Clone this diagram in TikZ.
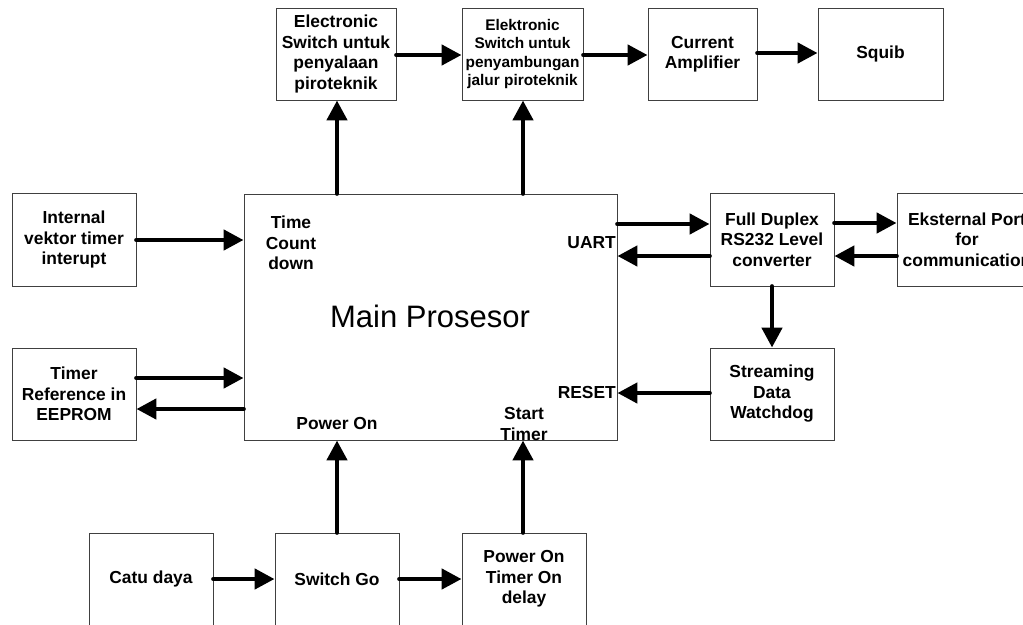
\documentclass[tikz,border=0pt]{standalone}
\usepackage{fontspec}
\setmainfont{Liberation Sans}
\usetikzlibrary{arrows.meta}
\begin{document}
\begin{tikzpicture}[x=1pt,y=-1pt,
  box/.style={draw=black!75,line width=0.9pt,inner sep=0pt,align=center,
    font=\bfseries\fontsize{17.4}{20.5}\selectfont},
  lbl/.style={inner sep=1pt,align=center,font=\bfseries\fontsize{17.4}{20.5}\selectfont},
  arr/.style={line width=4.6pt,line cap=round,-{Triangle[length=20pt,width=20pt]}}]
\useasboundingbox (0,0) rectangle (1023,624);
\fill[white] (0,0) rectangle (1023,624);
% top row
\node[box,minimum width=120,minimum height=92] (sw1) at (336,54) {Electronic\\Switch untuk\\penyalaan\\piroteknik};
\node[box,minimum width=121,minimum height=92,font=\bfseries\fontsize{15.4}{18.5}\selectfont] (sw2) at (522.5,54) {Elektronic\\Switch untuk\\penyambungan\\jalur piroteknik};
\node[box,minimum width=109,minimum height=92] (amp) at (702.5,54) {Current\\Amplifier};
\node[box,minimum width=125,minimum height=92] (squib) at (880.5,54) {Squib};
% middle
\node[box,minimum width=124,minimum height=93] (vek) at (74,239.5) {Internal\\vektor timer\\interupt};
\node[box,minimum width=124,minimum height=92] (tref) at (74,394) {Timer\\Reference in\\EEPROM};
\node[box,minimum width=373,minimum height=246] (main) at (430.5,317) {};
\node[inner sep=0pt,font=\fontsize{31}{36}\selectfont] (mp) at (430,316) {Main Prosesor};
\node[box,minimum width=124,minimum height=93] (fd) at (772,239.5) {Full Duplex\\RS232 Level\\converter};
\node[box,minimum width=140,minimum height=93] (ext) at (967,239.5) {Eksternal Port\\for\\communication};
\node[box,minimum width=124,minimum height=92] (wd) at (772,394) {Streaming\\Data\\Watchdog};
% bottom
\node[box,minimum width=124,minimum height=92] (catu) at (151,579) {Catu daya};
\node[box,minimum width=124,minimum height=92] (go) at (337,579) {Switch Go};
\node[box,minimum width=124,minimum height=92] (pot) at (524,579) {Power On\\Timer On\\delay};
% labels in main
\node[lbl] (tcd) at (291,243) {Time\\Count\\down};
\node[lbl,anchor=east] (uart) at (617,243) {UART};
\node[lbl,anchor=east] (reset) at (617,393) {RESET};
\node[lbl] (pon) at (337,424) {Power On};
\node[lbl,font=\bfseries\fontsize{17.4}{21.5}\selectfont] (st) at (524,424) {Start\\Timer};
% arrows
\draw[arr] (sw1.east |- 0,55) -- (sw2.west |- 0,55);
\draw[arr] (sw2.east |- 0,55) -- (amp.west |- 0,55);
\draw[arr] (amp.east |- 0,53) -- (squib.west |- 0,53);
\draw[arr] (main.north -| 337,0) -- (sw1.south -| 337,0);
\draw[arr] (main.north -| 523,0) -- (sw2.south -| 523,0);
\draw[arr] (vek.east |- 0,240) -- (main.west |- 0,240);
\draw[arr] (tref.east |- 0,378) -- (main.west |- 0,378);
\draw[arr] (main.west |- 0,409) -- (tref.east |- 0,409);
\draw[arr] (main.east |- 0,224) -- (fd.west |- 0,224);
\draw[arr] (fd.west |- 0,256) -- (main.east |- 0,256);
\draw[arr] (fd.east |- 0,223) -- (ext.west |- 0,223);
\draw[arr] (ext.west |- 0,256) -- (fd.east |- 0,256);
\draw[arr] (fd.south) -- (wd.north);
\draw[arr] (wd.west |- 0,393) -- (main.east |- 0,393);
\draw[arr] (go.north) -- (go.north |- main.south);
\draw[arr] (pot.north -| 523,0) -- (main.south -| 523,0);
\draw[arr] (catu.east) -- (go.west);
\draw[arr] (go.east) -- (pot.west);
\end{tikzpicture}
\end{document}
